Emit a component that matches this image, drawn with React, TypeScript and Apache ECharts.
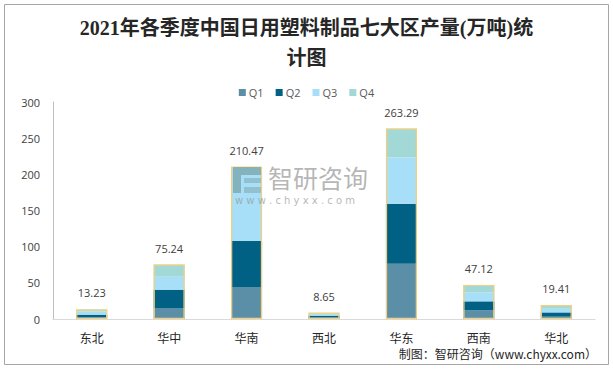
import React, { useEffect, useRef } from "react";
import * as echarts from "echarts";

const categories = ["东北", "华中", "华南", "西北", "华东", "西南", "华北"];
const q1 = [2.2, 15.2, 44.2, 2.0, 76.5, 11.9, 3.2];
const q2 = [3.8, 25.3, 64.1, 2.6, 82.9, 12.5, 5.9];
const q3 = [4.5, 18.0, 102.17, 2.1, 64.0, 12.4, 5.1];
const q4 = [2.73, 16.74, 0, 1.95, 39.89, 10.32, 5.21];
const totals = [13.23, 75.24, 210.47, 8.65, 263.29, 47.12, 19.41];
const seriesNames = ["Q1", "Q2", "Q3", "Q4"];
const colors = ["#5b8fa8", "#006185", "#a6dff7", "#a2d8d5"];
const yTicks = { min: 0, max: 300, interval: 50 };

export default function App() {
  const ref = useRef<HTMLDivElement>(null);
  useEffect(() => {
    if (!ref.current) return;
    const chart = echarts.init(ref.current, undefined, { renderer: "svg" });
    const qData = [q1, q2, q3, q4];
    const BW = 31;
    const series: any[] = qData.map((d, i) => ({
      name: seriesNames[i],
      type: "bar",
      stack: "q",
      barWidth: BW,
      data: d,
      itemStyle: { color: colors[i] },
    }));
    series.push({
      name: "合计",
      type: "bar",
      barWidth: BW,
      barGap: "-100%",
      data: totals,
      z: 5,
      itemStyle: { color: "rgba(0,0,0,0)", borderColor: "#f5cf7a", borderWidth: 1.2 },
      label: {
        show: true,
        position: "top",
        distance: 11,
        formatter: (p: any) => p.value.toFixed(2),
        color: "#404040",
        fontSize: 11,
        fontFamily: "'Open Sans', 'Noto Sans', sans-serif",
      },
    });
    const wm = "rgba(110,150,150,0.6)";
    const wm2 = "rgba(130,165,175,0.55)";
    chart.setOption({
      animation: false,
      backgroundColor: "#ffffff",
      color: colors,
      title: {
        text: "2021年各季度中国日用塑料制品七大区产量(万吨)统\n计图",
        left: "center",
        top: 8,
        textStyle: {
          fontSize: 20,
          fontWeight: "bold",
          color: "#262626",
          lineHeight: 30,
          fontFamily: "'Liberation Serif', 'Noto Sans CJK SC', serif",
        },
      },
      legend: {
        data: seriesNames,
        top: 82,
        left: "center",
        itemWidth: 7,
        itemHeight: 7,
        itemGap: 12,
        icon: "rect",
        textStyle: { color: "#595959", fontSize: 11, fontFamily: "'Open Sans', sans-serif", padding: [0, 0, 0, -2] },
      },
      grid: { left: 53, right: 18, top: 102, bottom: 51, containLabel: false },
      xAxis: {
        type: "category",
        data: categories,
        axisLine: { lineStyle: { color: "#d9d9d9" } },
        axisTick: { show: false },
        axisLabel: { color: "#262626", fontSize: 12, margin: 12, fontFamily: "'Noto Sans CJK SC', sans-serif" },
      },
      yAxis: {
        type: "value",
        min: yTicks.min,
        max: yTicks.max,
        interval: yTicks.interval,
        splitLine: { show: false },
        axisLine: { show: true, lineStyle: { color: "#bfbfbf" } },
        axisTick: { show: false },
        axisLabel: { color: "#404040", fontSize: 11, margin: 13, fontFamily: "'Open Sans', sans-serif" },
      },
      graphic: [
        {
          type: "rect",
          shape: { x: 4.5, y: 4.5, width: 604, height: 360 },
          style: { fill: "none", stroke: "#a6a6a6", lineWidth: 1 },
          silent: true,
          z: -10,
        },
        {
          type: "text",
          right: 16,
          top: 347,
          style: {
            text: "制图：智研咨询（www.chyxx.com）",
            fill: "#262626",
            fontSize: 12,
            fontFamily: "'Noto Sans CJK SC', sans-serif",
          },
        },
        { type: "rect", z: 100, silent: true, shape: { x: 233, y: 167, width: 28, height: 8 }, style: { fill: wm } },
        { type: "rect", z: 100, silent: true, shape: { x: 233, y: 175, width: 8, height: 18 }, style: { fill: wm } },
        { type: "rect", z: 100, silent: true, shape: { x: 244, y: 178, width: 17, height: 5 }, style: { fill: wm2 } },
        { type: "rect", z: 100, silent: true, shape: { x: 244, y: 187, width: 17, height: 6 }, style: { fill: wm2 } },
        {
          type: "text",
          z: 100,
          silent: true,
          x: 268,
          y: 164,
          style: {
            text: "智研咨询",
            fill: "rgba(150,150,150,0.7)",
            fontSize: 25,
            fontFamily: "'Noto Sans CJK SC', sans-serif",
          },
        },
        {
          type: "text",
          z: 100,
          silent: true,
          x: 235,
          y: 195,
          style: {
            text: "w w w . c h y x x . c o m",
            fill: "rgba(150,150,150,0.7)",
            fontSize: 10,
            fontFamily: "'DejaVu Sans', sans-serif",
          },
        },
      ],
      series,
    });
    return () => chart.dispose();
  }, []);
  return (
    <div
      ref={ref}
      style={{ position: "absolute", left: 0, top: 0, width: 613, height: 370 }}
    />
  );
}
